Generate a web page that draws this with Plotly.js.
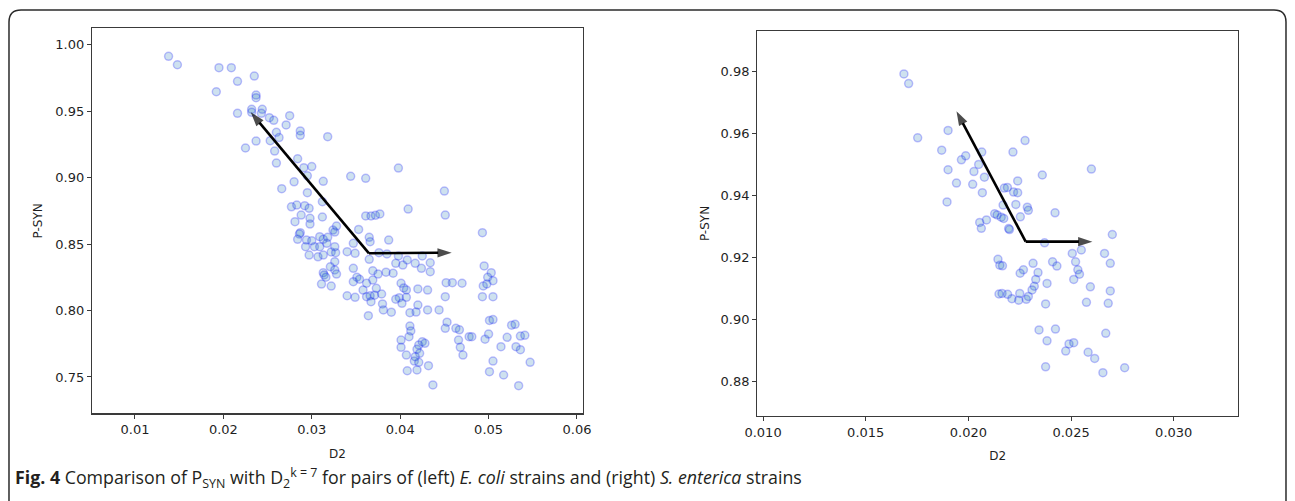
<!DOCTYPE html>
<html>
<head>
<meta charset="utf-8">
<script src="https://cdn.plot.ly/plotly-3.0.1.min.js"></script>
<style>
html,body{margin:0;padding:0;background:#fff;}
#chart{width:1295px;height:501px;}
</style>
</head>
<body>
<div id="chart"></div>
<script>
// ---------- Data: left panel (E. coli) ----------
const leftD2 = [
0.0138,0.0148,0.0195,0.0209,0.0216,0.0235,0.0192,0.0237,0.0237,0.0216,
0.0232,0.0232,0.0244,0.0243,0.0252,0.0257,0.0275,0.0271,0.0287,0.0287,
0.0260,0.0263,0.0253,0.0318,0.0237,0.0225,0.0258,0.0260,0.0284,0.0291,
0.0300,0.0295,0.0313,0.0280,0.0266,0.0295,0.0312,0.0277,0.0283,0.0292,
0.0297,0.0288,0.0298,0.0312,0.0281,
0.0287,0.0286,0.0284,0.0294,0.0293,0.0300,0.0309,0.0313,0.0318,0.0324,
0.0326,0.0328,0.0303,0.0309,0.0317,0.0297,0.0307,0.0313,0.0322,0.0327,
0.0326,0.0321,0.0326,0.0313,0.0314,0.0316,0.0311,0.0322,0.0328,0.0298,
0.0344,0.0361,0.0398,0.0450,
0.0361,0.0367,0.0372,0.0377,0.0409,0.0451,0.0353,0.0365,0.0366,0.0387,
0.0347,0.0340,0.0349,0.0326,0.0365,0.0376,0.0385,0.0398,0.0395,0.0403,
0.0408,0.0417,0.0425,0.0424,0.0434,0.0434,0.0347,0.0369,0.0384,0.0392,
0.0375,0.0351,0.0354,0.0347,0.0362,0.0369,0.0373,0.0358,0.0340,0.0349,
0.0362,0.0366,0.0371,0.0379,0.0367,0.0380,0.0381,0.0390,0.0364,0.0401,
0.0404,0.0407,0.0399,0.0395,0.0407,0.0402,0.0420,0.0431,0.0451,0.0420,
0.0411,0.0418,0.0431,0.0444,0.0452,0.0459,0.0470,0.0493,0.0495,0.0503,
0.0499,0.0505,0.0494,0.0498,0.0493,0.0505,0.0411,0.0412,0.0410,0.0401,
0.0401,0.0407,0.0416,0.0421,0.0408,0.0419,0.0432,0.0437,0.0421,0.0425,
0.0428,0.0419,0.0422,0.0417,0.0453,0.0451,0.0463,0.0467,0.0466,0.0468,
0.0471,0.0478,0.0481,0.0501,0.0505,0.0496,0.0500,0.0505,0.0501,0.0514,
0.0521,0.0517,0.0526,0.0530,0.0534,0.0531,0.0536,0.0536,0.0541,0.0547
];
const leftPSYN = [
0.9911,0.9848,0.9826,0.9826,0.9723,0.9763,0.9645,0.9620,0.9600,0.9483,
0.9513,0.9490,0.9513,0.9483,0.9450,0.9430,0.9465,0.9395,0.9350,0.9317,
0.9340,0.9300,0.9277,0.9307,0.9274,0.9222,0.9199,0.9109,0.9141,0.9074,
0.9082,0.9013,0.8971,0.8968,0.8916,0.8886,0.8818,0.8780,0.8793,0.8788,
0.8768,0.8718,0.8693,0.8703,0.8668,
0.8585,0.8575,0.8535,0.8530,0.8480,0.8525,0.8555,0.8535,0.8550,0.8605,
0.8590,0.8635,0.8480,0.8480,0.8505,0.8417,0.8404,0.8417,0.8440,0.8435,
0.8367,0.8329,0.8305,0.8284,0.8267,0.8250,0.8199,0.8184,0.8274,0.8650,
0.9009,0.8994,0.9071,0.8898,
0.8711,0.8711,0.8716,0.8726,0.8763,0.8718,0.8610,0.8550,0.8517,0.8530,
0.8505,0.8442,0.8430,0.8480,0.8385,0.8435,0.8425,0.8410,0.8355,0.8342,
0.8380,0.8355,0.8410,0.8317,0.8359,0.8292,0.8317,0.8299,0.8288,0.8280,
0.8274,0.8250,0.8235,0.8217,0.8205,0.8229,0.8167,0.8154,0.8111,0.8099,
0.8104,0.8110,0.8115,0.8124,0.8066,0.8049,0.8004,0.7987,0.7961,0.8205,
0.8170,0.8155,0.8096,0.8085,0.8099,0.8054,0.8162,0.8154,0.8104,0.8041,
0.7983,0.7988,0.8004,0.8004,0.8209,0.8209,0.8205,0.8585,0.8335,0.8284,
0.8250,0.8224,0.8185,0.8200,0.8104,0.8104,0.7883,0.7846,0.7803,0.7778,
0.7723,0.7665,0.7620,0.7610,0.7547,0.7553,0.7585,0.7440,0.7740,0.7765,
0.7753,0.7708,0.7678,0.7653,0.7912,0.7866,0.7866,0.7855,0.7778,0.7723,
0.7665,0.7803,0.7803,0.7925,0.7932,0.7784,0.7823,0.7620,0.7540,0.7728,
0.7798,0.7515,0.7890,0.7896,0.7435,0.7728,0.7705,0.7808,0.7813,0.7610
];
// ---------- Data: right panel (S. enterica) ----------
const rightD2 = [
0.01686,0.01709,0.01753,0.01901,0.01870,0.01966,0.01987,0.02065,0.02050,0.02027,
0.02078,0.01901,0.01942,0.02021,0.02068,0.01896,0.02128,0.02140,0.02088,0.02055,
0.02063,0.02144,0.02153,0.02149,0.02276,0.02217,0.02360,0.02599,0.02240,0.02175,
0.02190,0.02220,0.02240,0.02169,0.02231,0.02287,0.02292,0.02422,0.02160,0.02172,
0.02253,0.02196,0.02200,0.02371,0.02701,0.02550,0.02506,0.02663,0.02522,0.02691,
0.02166,0.02315,0.02410,0.02431,0.02268,0.02252,0.02339,0.02533,0.02541,0.02513,
0.02328,0.02321,0.02310,0.02383,0.02594,0.02691,0.02164,0.02191,0.02212,0.02245,
0.02250,0.02282,0.02292,0.02376,0.02575,0.02681,0.02344,0.02424,0.02669,0.02383,
0.02490,0.02513,0.02474,0.02583,0.02615,0.02376,0.02655,0.02761
];
const rightPSYN = [
0.9792,0.9761,0.9586,0.9610,0.9546,0.9515,0.9528,0.9540,0.9500,0.9477,
0.9459,0.9483,0.9440,0.9436,0.9409,0.9379,0.9341,0.9337,0.9321,0.9313,
0.9294,0.9194,0.9175,0.9082,0.9577,0.9540,0.9466,0.9485,0.9447,0.9424,
0.9426,0.9411,0.9409,0.9369,0.9371,0.9362,0.9352,0.9344,0.9330,0.9326,
0.9331,0.9293,0.9290,0.9247,0.9274,0.9224,0.9213,0.9213,0.9186,0.9181,
0.9173,0.9181,0.9186,0.9172,0.9160,0.9149,0.9151,0.9160,0.9146,0.9129,
0.9129,0.9107,0.9095,0.9116,0.9105,0.9092,0.9084,0.9081,0.9067,0.9062,
0.9084,0.9065,0.9074,0.9050,0.9055,0.9052,0.8966,0.8969,0.8955,0.8931,
0.8921,0.8925,0.8898,0.8894,0.8874,0.8847,0.8828,0.8844
];
// ---------- Arrows (origin -> tips) ----------
const leftArrowOrigin = [0.03647, 0.8430];
const leftArrowTipX = [0.0231, 0.04583];
const leftArrowTipY = [0.9490, 0.8435];
const rightArrowOrigin = [0.02279, 0.9251];
const rightArrowTipX = [0.01942, 0.02604];
const rightArrowTipY = [0.9672, 0.9251];
// ---------- Ticks ----------
const leftXTicks = [0.01, 0.02, 0.03, 0.04, 0.05, 0.06];
const leftXTickText = ['0.01','0.02','0.03','0.04','0.05','0.06'];
const leftYTicks = [0.75, 0.80, 0.85, 0.90, 0.95, 1.00];
const leftYTickText = ['0.75','0.80','0.85','0.90','0.95','1.00'];
const rightXTicks = [0.010, 0.015, 0.020, 0.025, 0.030];
const rightXTickText = ['0.010','0.015','0.020','0.025','0.030'];
const rightYTicks = [0.88, 0.90, 0.92, 0.94, 0.96, 0.98];
const rightYTickText = ['0.88','0.90','0.92','0.94','0.96','0.98'];
const xTitle = 'D2';
const yTitle = 'P-SYN';
const caption = '<b>Fig. 4</b> Comparison of P<sub>SYN</sub> with D<sub>2</sub><sup>k = 7</sup> for pairs of (left) <i>E. coli</i> strains and (right) <i>S. enterica</i> strains';

// ---------- Layout geometry (pixels) ----------
const W = 1295, H = 501;
const M = {l: 92, r: 1295 - 1238, t: 28, b: 501 - 416};
const PW = W - M.l - M.r, PH = H - M.t - M.b;
const px2x = p => (p - M.l) / PW;
const py2y = p => 1 - (p - M.t) / PH;

const markerStyle = {
  size: 8,
  color: 'rgba(31,119,180,0.22)',
  line: {color: 'rgba(0,0,255,0.24)', width: 1.5}
};

const traces = [
  {type: 'scatter', mode: 'markers', x: leftD2, y: leftPSYN, xaxis: 'x', yaxis: 'y',
   marker: markerStyle, name: 'E. coli', showlegend: false, hoverinfo: 'x+y'},
  {type: 'scatter', mode: 'markers', x: rightD2, y: rightPSYN, xaxis: 'x2', yaxis: 'y2',
   marker: markerStyle, name: 'S. enterica', showlegend: false, hoverinfo: 'x+y'}
];

// arrows as line traces ending in an arrow-head marker
function arrowTrace(ox, oy, tx, ty, xa, ya) {
  return {
    type: 'scatter', mode: 'lines+markers', x: [ox, tx], y: [oy, ty], xaxis: xa, yaxis: ya,
    line: {color: '#000', width: 2.6},
    marker: {symbol: ['circle', 'arrow'], size: [0, 15], color: '#000', angleref: 'previous',
             line: {width: 0}},
    showlegend: false, hoverinfo: 'skip'
  };
}
for (let i = 0; i < leftArrowTipX.length; i++)
  traces.push(arrowTrace(leftArrowOrigin[0], leftArrowOrigin[1], leftArrowTipX[i], leftArrowTipY[i], 'x', 'y'));
for (let i = 0; i < rightArrowTipX.length; i++)
  traces.push(arrowTrace(rightArrowOrigin[0], rightArrowOrigin[1], rightArrowTipX[i], rightArrowTipY[i], 'x2', 'y2'));

const tickFont = {family: 'DejaVu Sans, sans-serif', size: 13, color: '#1f1f1f'};
const titleFont = {family: 'DejaVu Sans, sans-serif', size: 12, color: '#1f1f1f'};
const axisCommon = {
  showgrid: false, zeroline: false, showline: true, mirror: true,
  linecolor: '#3a3a3a', linewidth: 1.2, ticks: 'outside', ticklen: 4,
  tickwidth: 1, tickcolor: '#3a3a3a', tickfont: tickFont, tickmode: 'array'
};

const annotations = [{
  text: caption, xref: 'paper', yref: 'paper', x: px2x(13), y: py2y(478),
  xanchor: 'left', yanchor: 'middle', showarrow: false, align: 'left',
  font: {family: 'Open Sans, sans-serif', size: 17.8, color: '#231f20'}
}];

// rounded outer frame
const L = 9, T = 10, R = 1286, B = 520, r = 12;
const P = (a, b) => px2x(a).toFixed(5) + ',' + py2y(b).toFixed(5);
const framePath = 'M' + P(L, B) + ' L' + P(L, T + r) + ' Q' + P(L, T) + ' ' + P(L + r, T) +
  ' L' + P(R - r, T) + ' Q' + P(R, T) + ' ' + P(R, T + r) + ' L' + P(R, B);

const layout = {
  width: W, height: H,
  margin: M,
  paper_bgcolor: '#fff', plot_bgcolor: '#fff',
  showlegend: false,
  xaxis: Object.assign({}, axisCommon, {
    domain: [0, px2x(583)], range: [0.00514, 0.06068], anchor: 'y',
    tickvals: leftXTicks, ticktext: leftXTickText,
    title: {text: xTitle, font: titleFont, standoff: 13}
  }),
  yaxis: Object.assign({}, axisCommon, {
    domain: [py2y(413.3), py2y(28.3)], range: [0.7227, 1.0122], anchor: 'x',
    tickvals: leftYTicks, ticktext: leftYTickText,
    title: {text: yTitle, font: titleFont, standoff: 10}
  }),
  xaxis2: Object.assign({}, axisCommon, {
    domain: [px2x(757.3), 1], range: [0.00972, 0.03313], anchor: 'y2',
    tickvals: rightXTicks, ticktext: rightXTickText,
    title: {text: xTitle, font: titleFont, standoff: 12}
  }),
  yaxis2: Object.assign({}, axisCommon, {
    domain: [py2y(416), py2y(31)], range: [0.86883, 0.99307], anchor: 'x2',
    tickvals: rightYTicks, ticktext: rightYTickText,
    title: {text: yTitle, font: titleFont, standoff: 8}
  }),
  annotations: annotations,
  shapes: [{type: 'path', xref: 'paper', yref: 'paper', path: framePath,
            line: {color: '#2b2b2b', width: 1.5}, fillcolor: 'rgba(0,0,0,0)'}]
};

Plotly.newPlot('chart', traces, layout, {displayModeBar: false, staticPlot: true});
</script>
</body>
</html>
